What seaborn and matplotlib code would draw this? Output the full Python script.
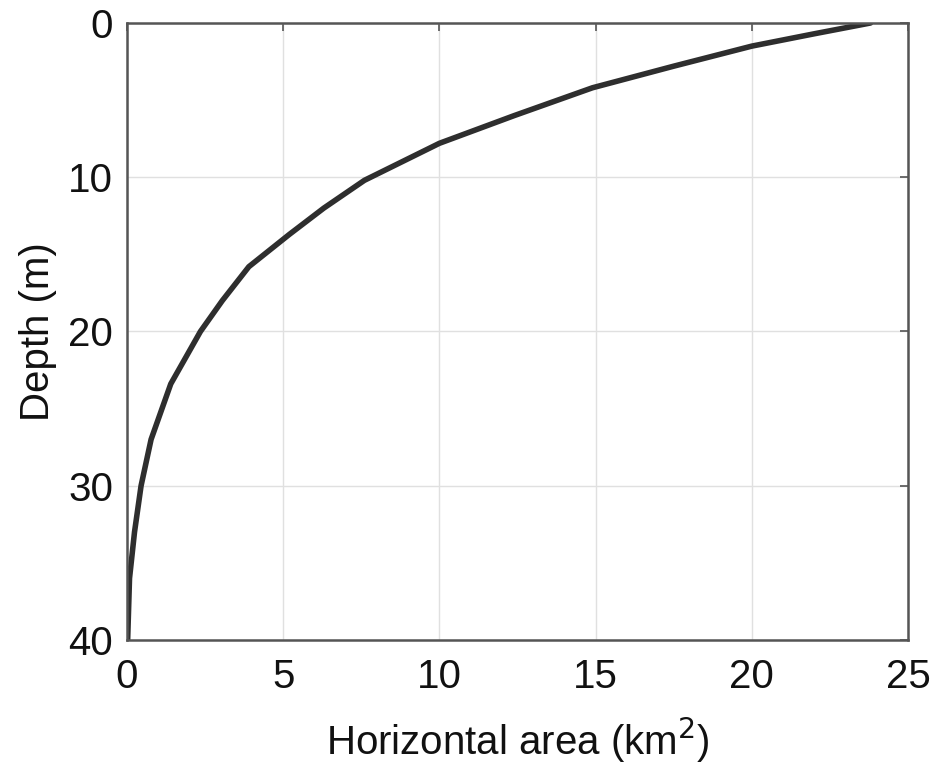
import seaborn as sns
import pandas as pd
from matplotlib import pyplot as plt

# hypsometric curve
depth = [0, 0.7, 1.5, 2.8, 4.2, 6.0, 7.8, 10.2, 12.0, 13.7, 15.8, 18.0, 20.0,
         23.4, 27.0, 30.0, 33.0, 36.0, 40.0]
area = [23.8, 22.0, 20.0, 17.5, 14.9, 12.4, 10.0, 7.6, 6.3, 5.2, 3.9, 3.05, 2.35,
        1.4, 0.77, 0.45, 0.24, 0.08, 0.02]

x_ticks = [0, 5, 10, 15, 20, 25]
y_ticks = [0, 10, 20, 30, 40]

sns.set_theme(style="whitegrid")
plt.rcParams['font.family'] = ['Liberation Sans', 'DejaVu Sans']

df = pd.DataFrame({'area': area, 'depth': depth})

fig = plt.figure(figsize=(9.43, 7.66), dpi=100)
ax = fig.add_axes([0.1347, 0.1645, 0.8282, 0.8055])

sns.lineplot(data=df, x='area', y='depth', sort=False, estimator=None,
             color='#2e2e2e', linewidth=4.0, ax=ax)

ax.set_xlim(0, 25)
ax.set_ylim(40, 0)
ax.set_xticks(x_ticks)
ax.set_yticks(y_ticks)
ax.grid(True, color='#e0e0e0', linewidth=1.0)
for s in ax.spines.values():
    s.set_color('#555555')
    s.set_linewidth(1.8)
ax.tick_params(direction='in', length=6, width=1.2, color='#555555',
               top=True, right=True, labelsize=29, labelcolor='#111111')
ax.tick_params(axis='x', pad=13)
ax.tick_params(axis='y', pad=10)
ax.set_xlabel('Horizontal area (km$^2$)', fontsize=29, color='#111111', labelpad=14)
ax.set_ylabel('Depth (m)', fontsize=29, color='#111111', labelpad=8)

fig.savefig('out.png', dpi=100)
